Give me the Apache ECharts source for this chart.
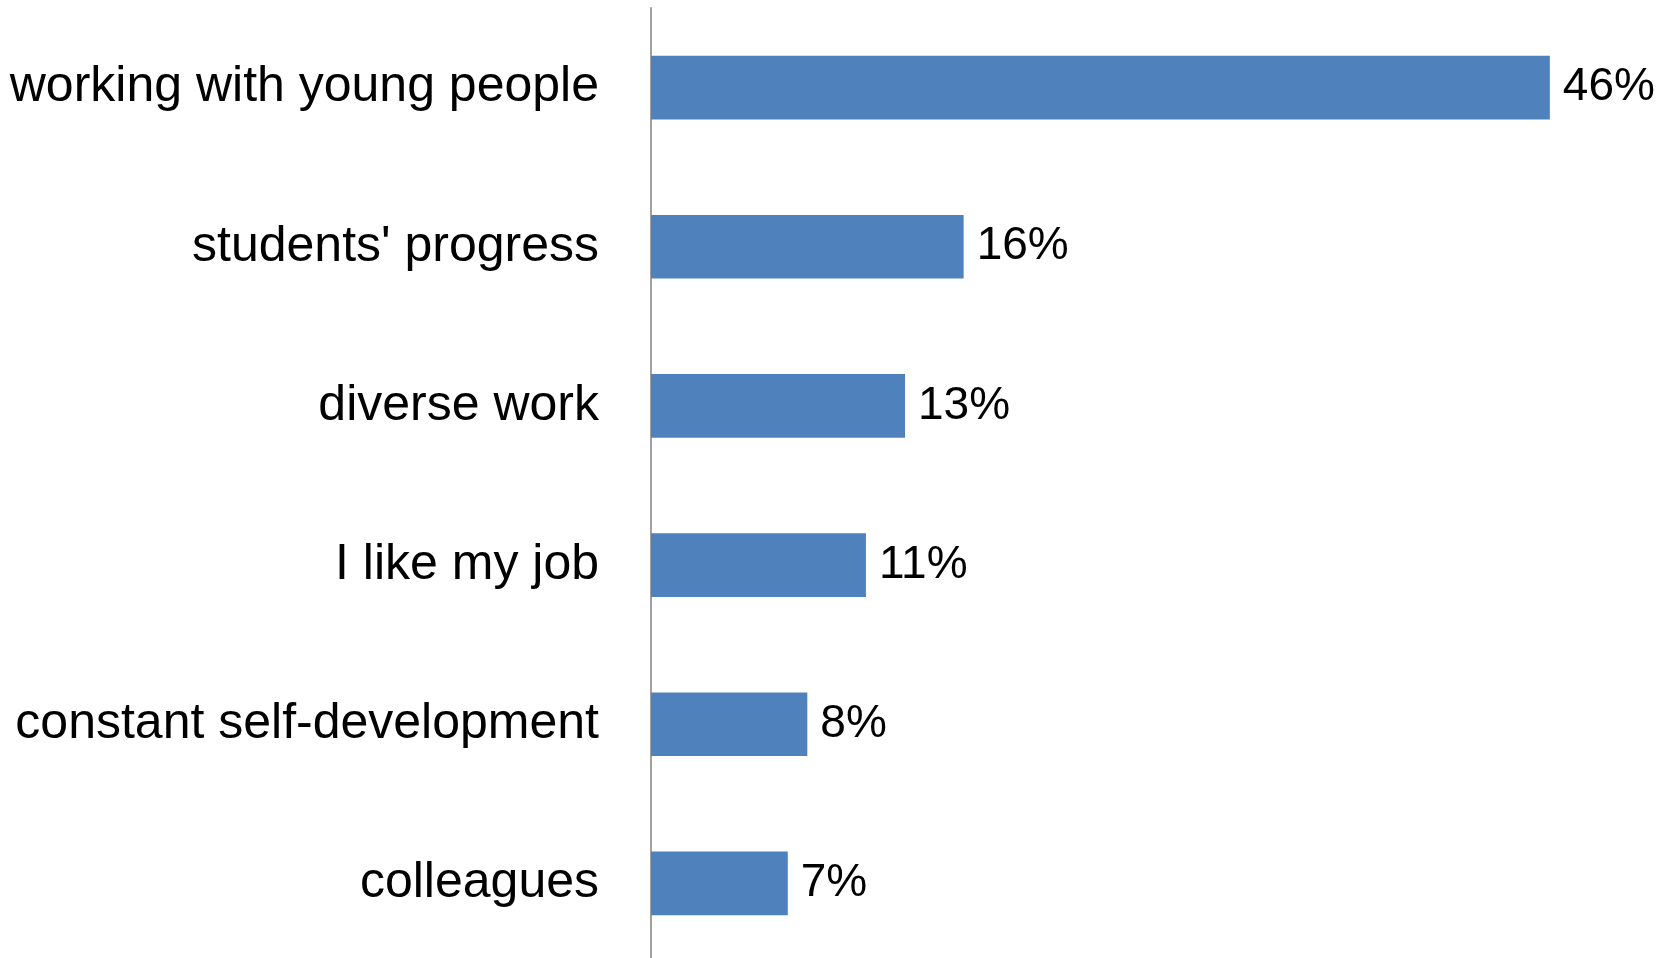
<!DOCTYPE html>
<html>
<head>
<meta charset="utf-8">
<script src="https://cdn.jsdelivr.net/npm/echarts@6/dist/echarts.min.js"></script>
<style>
html,body{margin:0;padding:0;background:#fff;}
#chart{width:1669px;height:958px;}
</style>
</head>
<body>
<div id="chart"></div>
<script>
const categories = ["working with young people", "students' progress", "diverse work", "I like my job", "constant self-development", "colleagues"];
const values = [46, 16, 13, 11, 8, 7];

const chart = echarts.init(document.getElementById('chart'), null, {renderer: 'canvas'});
chart.setOption({
  animation: false,
  backgroundColor: '#ffffff',
  grid: {left: 651, top: 8, width: 977, height: 955, containLabel: false, outerBoundsMode: 'none'},
  xAxis: {
    type: 'value', min: 0, max: 50, show: false
  },
  yAxis: {
    type: 'category', data: categories, inverse: true,
    axisLine: {show: true, lineStyle: {color: '#a0a0a0', width: 2}},
    axisTick: {show: false},
    axisLabel: {
      margin: 52, color: '#000000', fontSize: 50,
      fontFamily: '"Liberation Sans", Arial, sans-serif'
    }
  },
  series: [{
    type: 'bar', data: values, barWidth: '40%',
    itemStyle: {color: '#4F81BD'},
    label: {
      show: true, position: 'right', distance: 13,
      formatter: '{c}%', color: '#000000', fontSize: 46,
      fontFamily: '"Liberation Sans", Arial, sans-serif'
    }
  }]
});
</script>
</body>
</html>
